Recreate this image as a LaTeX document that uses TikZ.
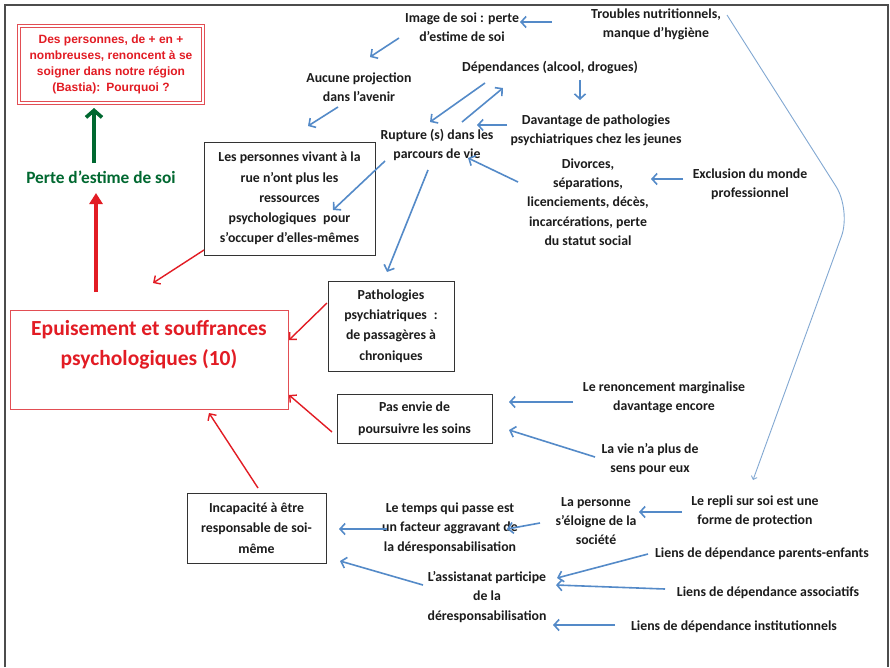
\documentclass[tikz,border=0pt]{standalone}
\usepackage{fontspec}
\setmainfont{Carlito}
\newfontfamily\arialfont{Liberation Sans}
\usetikzlibrary{arrows.meta}
\definecolor{linkblue}{RGB}{84,138,200}
\definecolor{curveblue}{RGB}{130,168,210}
\definecolor{alertred}{RGB}{226,28,36}
\definecolor{boxred}{RGB}{226,78,84}
\definecolor{estimegreen}{RGB}{0,104,48}
\definecolor{ink}{RGB}{28,28,28}
\begin{document}
\begin{tikzpicture}[x=1pt,y=-1pt,
  lbl/.style={align=center,inner sep=0pt,text=ink,
    font=\bfseries\fontsize{13.8}{19.3}\selectfont},
  framebox/.style={draw=black!80,line width=0.9pt,inner sep=0pt,align=center,text=ink,
    font=\bfseries\fontsize{13.8}{20.2}\selectfont},
  barrow/.style={draw=linkblue,line width=1.6pt,-{Straight Barb[length=5pt,width=11pt]}},
  rarrow/.style={draw=alertred,line width=1.4pt,-{Straight Barb[length=5pt,width=10pt]}},
]
\useasboundingbox (0,0) rectangle (890,667);
\fill[white] (0,0) rectangle (890,667);
% page frame, open at the bottom
\draw[black!70,line width=1.2pt] (5,667) -- (5,5) -- (888,5) -- (888,667);

% --- central question and main consequence --------------------------------
\node[draw=boxred,double=white,double distance=1.6pt,line width=1.1pt,
      minimum width=184pt,minimum height=77pt,inner sep=0pt,align=center,
      text=alertred,font=\arialfont\bfseries\fontsize{12}{15.8}\selectfont]
  (question) at (111,64.5)
  {Des personnes, de + en +\\nombreuses, renoncent à se\\soigner dans notre région\\(Bastia):\enspace Pourquoi ?};

\node[inner sep=0pt,text=estimegreen,font=\bfseries\fontsize{17.3}{20}\selectfont]
  (estime) at (101,177) {Perte d’estime de soi};

\node[draw=boxred,line width=0.9pt,minimum width=278pt,minimum height=99pt,inner sep=0pt]
  (epuis) at (149,359.5) {};
\node[inner sep=0pt,align=center,text=alertred,
      font=\bfseries\fontsize{21.5}{30}\selectfont]
  (epuistxt) at (149,345) {Epuisement et souffrances\\psychologiques (10)};

% --- framed causes ----------------------------------------------------------
\node[framebox,minimum width=171pt,minimum height=113pt] (pers) at (289.5,198.5)
  {Les personnes vivant à la\\rue n’ont plus les\\ressources\\psychologiques\enspace pour\\s’occuper d’elles-mêmes};
\node[framebox,minimum width=126pt,minimum height=90pt] (patho) at (391,326)
  {Pathologies\\psychiatriques\enspace :\\de passagères à\\chroniques};
\node[framebox,minimum width=155pt,minimum height=49pt,
      font=\bfseries\fontsize{13.8}{21.5}\selectfont] (envie) at (414.5,418.5)
  {Pas envie de\\poursuivre les soins};
\node[framebox,minimum width=139pt,minimum height=70pt] (incap) at (256.5,528)
  {Incapacité à être\\responsable de soi-\\même};

% --- free labels ------------------------------------------------------------
\node[lbl] (image)     at (462,27)  {Image de soi : perte\\d’estime de soi};
\node[lbl] (troubles)  at (656,24)  {Troubles nutritionnels,\\manque d’hygiène};
\node[lbl] (aucune)    at (359,87)  {Aucune projection\\dans l’avenir};
\node[lbl] (depend)    at (550,68)  {Dépendances (alcool, drogues)};
\node[lbl] (davantage) at (596,130) {Davantage de pathologies\\psychiatriques chez les jeunes};
\node[lbl] (rupture)   at (437,145) {Rupture (s) dans les\\parcours de vie};
\node[lbl] (divorces)  at (588,202) {Divorces,\\séparations,\\licenciements, décès,\\incarcérations, perte\\du statut social};
\node[lbl] (exclusion) at (750,184) {Exclusion du monde\\professionnel};
\node[lbl] (renonc)    at (664,397) {Le renoncement marginalise\\davantage encore};
\node[lbl] (lavie)     at (650,459) {La vie n’a plus de\\sens pour eux};
\node[lbl] (repli)     at (755,511) {Le repli sur soi est une\\forme de protection};
\node[lbl] (personne)  at (596,521) {La personne\\s’éloigne de la\\société};
\node[lbl] (temps)     at (450,528) {Le temps qui passe est\\un facteur aggravant de\\la déresponsabilisation};
\node[lbl] (assist)    at (487,597) {L’assistanat participe\\de la\\déresponsabilisation};
\node[lbl] (parents)   at (762,554) {Liens de dépendance parents-enfants};
\node[lbl] (assoc)     at (768,593) {Liens de dépendance associatifs};
\node[lbl] (instit)    at (734,627) {Liens de dépendance institutionnels};

% --- arrow end points ---------------------------------------------------------
\coordinate (troubles-w)  at (552,22);   \coordinate (image-e)    at (520,22);
\coordinate (image-sw)    at (399,38);   \coordinate (aucune-ne)  at (370,57);
\coordinate (aucune-sw)   at (338,107);  \coordinate (pers-ne)    at (308,126);
\coordinate (depend-s)    at (580,80);   \coordinate (davantage-n) at (580,100);
\coordinate (davantage-w) at (507,125);  \coordinate (rupture-e)  at (477,125);
\coordinate (depend-sw)   at (485,83);   \coordinate (rupture-ne) at (430,122);
\coordinate (rupture-n)   at (462,122);  \coordinate (depend-sw2) at (503,88);
\coordinate (divorces-nw) at (518,182);  \coordinate (rupture-se) at (468,158);
\coordinate (rupture-sw)  at (385,161);  \coordinate (pers-e)     at (333,210);
\coordinate (rupture-s)   at (428,170);  \coordinate (patho-n)    at (387,272);
\coordinate (exclusion-w) at (683,179);  \coordinate (divorces-e) at (651,179);
\coordinate (renonc-w)    at (573,402);  \coordinate (envie-e1)   at (509,402);
\coordinate (lavie-w)     at (595,457);  \coordinate (envie-e2)   at (509,430);
\coordinate (repli-w)     at (682,512);  \coordinate (personne-e) at (639,512);
\coordinate (personne-w)  at (540,523);  \coordinate (temps-e)    at (507,529);
\coordinate (temps-w)     at (387,529);  \coordinate (incap-e1)   at (339,529);
\coordinate (assist-w)    at (423,585);  \coordinate (incap-e2)   at (340,561);
\coordinate (parents-w)   at (648,554);  \coordinate (assist-e1)  at (557,578);
\coordinate (assoc-w)     at (665,589);  \coordinate (assist-e2)  at (556,585);
\coordinate (instit-w)    at (615,625);  \coordinate (assist-e3)  at (553,625);
\coordinate (troubles-ne) at (727,15);   \coordinate (repli-n)    at (753,480);
\coordinate (pers-sw)     at (204,250);  \coordinate (epuis-n1)   at (153,283);
\coordinate (patho-w)     at (327,303);  \coordinate (epuis-e1)   at (289,340);
\coordinate (envie-w)     at (332,432);  \coordinate (epuis-e2)   at (289,395);
\coordinate (incap-n)     at (258,488);  \coordinate (epuis-s)    at (209,413);
\coordinate (epuis-n2)    at (96,292);   \coordinate (estime-s)   at (96,193);
\coordinate (estime-n)    at (94,163);   \coordinate (question-s) at (94,108);

% --- blue links -----------------------------------------------------------------
\draw[barrow] (troubles-w)  -- (image-e);
\draw[barrow] (image-sw)    -- (aucune-ne);
\draw[barrow] (aucune-sw)   -- (pers-ne);
\draw[barrow] (depend-s)    -- (davantage-n);
\draw[barrow] (davantage-w) -- (rupture-e);
\draw[barrow] (depend-sw)   -- (rupture-ne);
\draw[barrow] (rupture-n)   -- (depend-sw2);
\draw[barrow] (divorces-nw) -- (rupture-se);
\draw[barrow] (rupture-sw)  -- (pers-e);
\draw[barrow] (rupture-s)   -- (patho-n);
\draw[barrow] (exclusion-w) -- (divorces-e);
\draw[barrow] (renonc-w)    -- (envie-e1);
\draw[barrow] (lavie-w)     -- (envie-e2);
\draw[barrow] (repli-w)     -- (personne-e);
\draw[barrow] (personne-w)  -- (temps-e);
\draw[barrow] (temps-w)     -- (incap-e1);
\draw[barrow] (assist-w)    -- (incap-e2);
\draw[barrow] (parents-w)   -- (assist-e1);
\draw[barrow] (assoc-w)     -- (assist-e2);
\draw[barrow] (instit-w)    -- (assist-e3);

% long thin bend from the nutrition problems down to the withdrawal
\draw[curveblue,line width=0.9pt,rounded corners=28pt,
      -{Straight Barb[length=3pt,width=6pt]}]
  (troubles-ne) -- (851,210) -- (repli-n);

% --- red links towards the exhaustion box ---------------------------------------
\draw[rarrow] (pers-sw)  -- (epuis-n1);
\draw[rarrow] (patho-w)  -- (epuis-e1);
\draw[rarrow] (envie-w)  -- (epuis-e2);
\draw[rarrow] (incap-n)  -- (epuis-s);
\draw[alertred,line width=3.6pt,-{Triangle[length=11pt,width=13pt]}] (epuis-n2) -- (estime-s);
\draw[estimegreen,line width=3.6pt,-{Straight Barb[length=7pt,width=16pt]}] (estime-n) -- (question-s);
\end{tikzpicture}
\end{document}
